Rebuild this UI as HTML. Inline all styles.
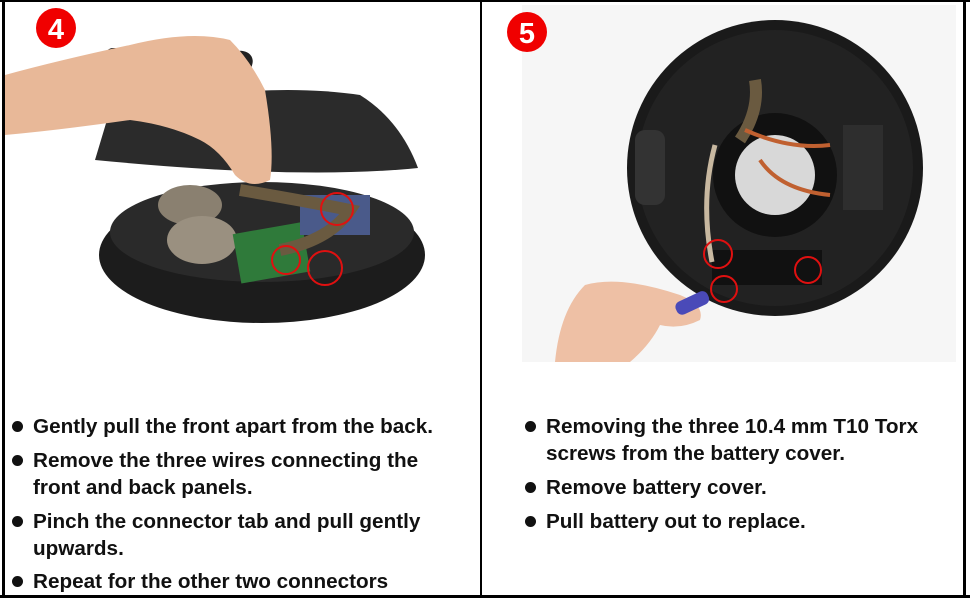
<!DOCTYPE html>
<html><head><style>
body{margin:0;width:970px;height:600px;background:#fff;overflow:hidden;position:relative;font-family:"Liberation Sans",Arial,sans-serif}
.t{position:absolute;font-weight:bold;font-size:20.7px;color:#111;line-height:27px}
.t div{position:relative;padding-left:21px}
.t div:before{content:"";position:absolute;left:0;top:8px;width:11px;height:11px;border-radius:50%;background:#111}
</style></head><body>
<svg width="970" height="600" style="position:absolute;left:0;top:0">
<rect x="522" y="5" width="434" height="357" fill="#f6f6f6"/>
<ellipse cx="262" cy="255" rx="163" ry="68" fill="#1c1c1c"/>
<ellipse cx="262" cy="232" rx="152" ry="50" fill="#2a2a2a"/>
<ellipse cx="190" cy="205" rx="32" ry="20" fill="#8a8070"/>
<ellipse cx="202" cy="240" rx="35" ry="24" fill="#9a9080"/>
<rect x="236" y="228" width="70" height="50" fill="#2f7a3a" transform="rotate(-10 270 250)"/>
<rect x="300" y="195" width="70" height="40" fill="#4a5a8a"/>
<path d="M240 190 Q300 200 350 210 Q330 240 280 250" stroke="#6a5a40" stroke-width="12" fill="none"/>
<path d="M95 160 L110 110 Q260 80 360 95 Q400 120 418 168 Q300 180 95 160Z" fill="#2b2b2b"/>
<rect x="223" y="50" width="22" height="80" rx="10" fill="#222" transform="rotate(15 234 90)"/>
<rect x="105" y="48" width="18" height="40" rx="8" fill="#222"/>
<path d="M5 75 Q60 60 130 45 Q190 30 230 40 Q250 60 265 90 Q275 150 270 180 Q250 190 235 175 Q220 150 200 140 Q170 125 130 120 Q60 130 5 135Z" fill="#e8b898"/>
<circle cx="337" cy="209" r="16" fill="none" stroke="#e01010" stroke-width="2"/>
<circle cx="286" cy="260" r="14" fill="none" stroke="#e01010" stroke-width="2"/>
<circle cx="325" cy="268" r="17" fill="none" stroke="#e01010" stroke-width="2"/>
<circle cx="775" cy="168" r="148" fill="#1a1a1a"/>
<circle cx="775" cy="168" r="138" fill="#222"/>
<circle cx="775" cy="175" r="62" fill="#111"/>
<circle cx="775" cy="175" r="40" fill="#d8d8d8"/>
<rect x="635" y="130" width="30" height="75" rx="10" fill="#333"/>
<rect x="843" y="125" width="40" height="85" fill="#2e2e2e"/>
<rect x="712" y="250" width="110" height="35" fill="#111"/>
<path d="M715 145 Q700 200 712 262" stroke="#c8b8a0" stroke-width="5" fill="none"/>
<path d="M755 80 Q760 110 740 140" stroke="#6a5a40" stroke-width="12" fill="none"/>
<path d="M745 130 Q790 150 830 145 M760 160 Q780 190 830 195" stroke="#c06030" stroke-width="4" fill="none"/>
<circle cx="718" cy="254" r="14" fill="none" stroke="#e01010" stroke-width="2"/>
<circle cx="808" cy="270" r="13" fill="none" stroke="#e01010" stroke-width="2"/>
<circle cx="724" cy="289" r="13" fill="none" stroke="#e01010" stroke-width="2"/>
<path d="M555 362 Q560 310 585 285 Q620 275 680 295 Q705 305 700 320 Q680 330 660 325 Q650 345 630 362Z" fill="#eec0a5"/>
<rect x="675" y="297" width="35" height="14" rx="6" fill="#4a4ab8" transform="rotate(-25 690 304)"/>
<circle cx="56" cy="28" r="20" fill="#f00000"/>
<text x="56" y="39" font-family="Liberation Sans" font-weight="bold" font-size="29" fill="#fff" text-anchor="middle">4</text>
<circle cx="527" cy="32" r="20" fill="#f00000"/>
<text x="527" y="43" font-family="Liberation Sans" font-weight="bold" font-size="29" fill="#fff" text-anchor="middle">5</text>
<rect x="0" y="0" width="970" height="2" fill="#000"/>
<rect x="2" y="0" width="3" height="598" fill="#000"/>
<rect x="963" y="0" width="3" height="598" fill="#000"/>
<rect x="0" y="595" width="970" height="3" fill="#000"/>
<rect x="480" y="0" width="2" height="598" fill="#000"/>
</svg>
<div class="t" style="left:12px;top:413px">
<div>Gently pull the front apart from the back.</div>
<div style="margin-top:7px">Remove the three wires connecting the<br>front and back panels.</div>
<div style="margin-top:7px">Pinch the connector tab and pull gently<br>upwards.</div>
<div style="margin-top:6px">Repeat for the other two connectors</div>
</div>
<div class="t" style="left:525px;top:413px">
<div>Removing the three 10.4 mm T10 Torx<br>screws from the battery cover.</div>
<div style="margin-top:7px">Remove battery cover.</div>
<div style="margin-top:7px">Pull battery out to replace.</div>
</div>
</body></html>
